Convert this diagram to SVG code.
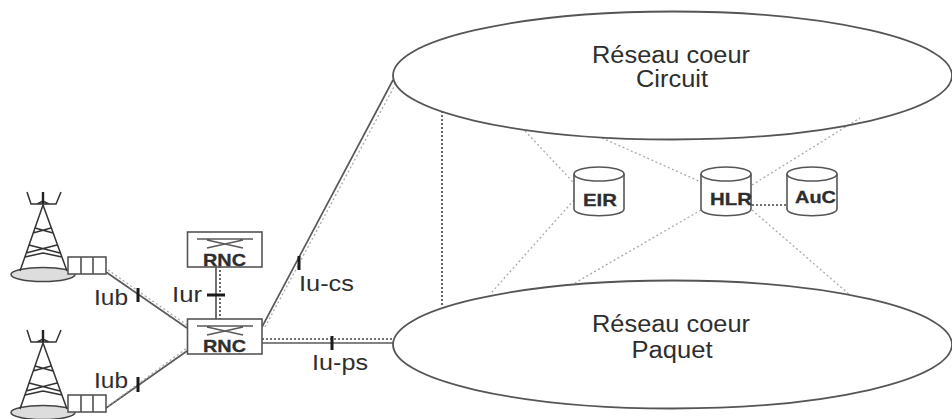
<svg xmlns="http://www.w3.org/2000/svg" width="952" height="419" viewBox="0 0 952 419">
<style>
text{font-family:"Liberation Sans",Arial,sans-serif;fill:#2e2e2e}
.lbl{font-size:22px}
.big{font-size:23px;text-anchor:middle}
.b{font-size:17px;font-weight:bold;stroke:#2e2e2e;stroke-width:.3}
.s{fill:#fff;stroke:#555;stroke-width:1.6}
.e{fill:none;stroke:#555;stroke-width:1.8}
.l{fill:none;stroke:#5a5a5a;stroke-width:1.7}
.t{fill:none;stroke:#333;stroke-width:1.5}
.d{fill:none;stroke:#444;stroke-width:1.6;stroke-dasharray:2 2}
.g{fill:none;stroke:#aaa;stroke-width:1.3;stroke-dasharray:2 2.5}
.k{fill:none;stroke:#1a1a1a;stroke-width:3}
</style>
<defs>
<g id="tower">
<ellipse cx="43" cy="82.500" rx="32" ry="7" fill="#ddd" stroke="#444" stroke-width="1.500"/>
<path class="t" d="M20 79L43 13L67 79M35 36L53 41M51 36L33 41M29 53L60 61M57 53L26 61M25 65L43 61M62 65L43 61"/>
<path class="t" d="M27 0L31 12H56L61 0M37 12L43 9L49 12"/>
<path d="M43 0V12" fill="none" stroke="#222" stroke-width="2.400"/>
<rect class="s" x="68" y="65" width="38" height="17"/>
<path class="l" d="M81 65V82M93 65V82"/>
</g>
<g id="cyl">
<path class="s" d="M0 7V42C0 51 50 51 50 42V7"/>
<ellipse class="s" cx="25" cy="7" rx="25" ry="7"/>
</g>
</defs>
<g id="connectors">
<path class="l" d="M106 272L187 328M106 408L187 351M216 266V319M262 327L393 80M262 343H393"/>
<path class="g" d="M108 270L187 325M108 406L187 348"/>
<path class="d" d="M220 266V319M262 339H393M442 111V307"/>
<path class="g" d="M265 327L396 83"/>
<path class="g" d="M525 131L574 183M574 200L492 292M602 138L701 182M701 210L575 283M752 185L860 118M752 210L850 295"/>
<path class="d" d="M752 205H787"/>
<path class="k" d="M138 288V302M138 377V392M207 295H225M299 256V270M332 336V350"/>
</g>
<g id="core-circuit">
<ellipse class="e" cx="672.500" cy="75.500" rx="279.500" ry="64"/>
<text class="big" x="671" y="63" textLength="158" lengthAdjust="spacingAndGlyphs">Réseau coeur</text>
<text class="big" x="672" y="87" textLength="72" lengthAdjust="spacingAndGlyphs">Circuit</text>
</g>
<g id="core-paquet">
<ellipse class="e" cx="672.500" cy="344.500" rx="279.500" ry="64"/>
<text class="big" x="671" y="332" textLength="158" lengthAdjust="spacingAndGlyphs">Réseau coeur</text>
<text class="big" x="672" y="358" textLength="81" lengthAdjust="spacingAndGlyphs">Paquet</text>
</g>
<g id="bts-1"><use href="#tower" x="0" y="192"/></g>
<g id="bts-2"><use href="#tower" x="0" y="330"/></g>
<g id="rnc-1">
<rect class="s" x="187.500" y="232" width="74.500" height="35"/>
<path class="l" d="M197 239H253M207 248L243 240M207 240L243 248"/>
<text class="b" x="203" y="266" textLength="43" lengthAdjust="spacingAndGlyphs">RNC</text>
</g>
<g id="rnc-2">
<rect class="s" x="187.500" y="319" width="74.500" height="35"/>
<path class="l" d="M197 326H253M207 335L243 327M207 327L243 335"/>
<text class="b" x="203" y="352" textLength="43" lengthAdjust="spacingAndGlyphs">RNC</text>
</g>
<g id="eir"><use href="#cyl" x="574" y="167"/><text class="b" x="583" y="206" textLength="34" lengthAdjust="spacingAndGlyphs">EIR</text></g>
<g id="hlr"><use href="#cyl" x="701" y="167"/><text class="b" x="710" y="205" textLength="42" lengthAdjust="spacingAndGlyphs">HLR</text></g>
<g id="auc"><use href="#cyl" x="787" y="167"/><text class="b" x="795" y="203" textLength="41" lengthAdjust="spacingAndGlyphs">AuC</text></g>
<g id="labels">
<text class="lbl" x="94" y="305" textLength="34" lengthAdjust="spacingAndGlyphs">Iub</text>
<text class="lbl" x="94" y="388" textLength="34" lengthAdjust="spacingAndGlyphs">Iub</text>
<text class="lbl" x="172" y="302" textLength="30" lengthAdjust="spacingAndGlyphs">Iur</text>
<text class="lbl" x="299" y="291" textLength="55" lengthAdjust="spacingAndGlyphs">Iu-cs</text>
<text class="lbl" x="312" y="370" textLength="56" lengthAdjust="spacingAndGlyphs">Iu-ps</text>
</g>
</svg>
